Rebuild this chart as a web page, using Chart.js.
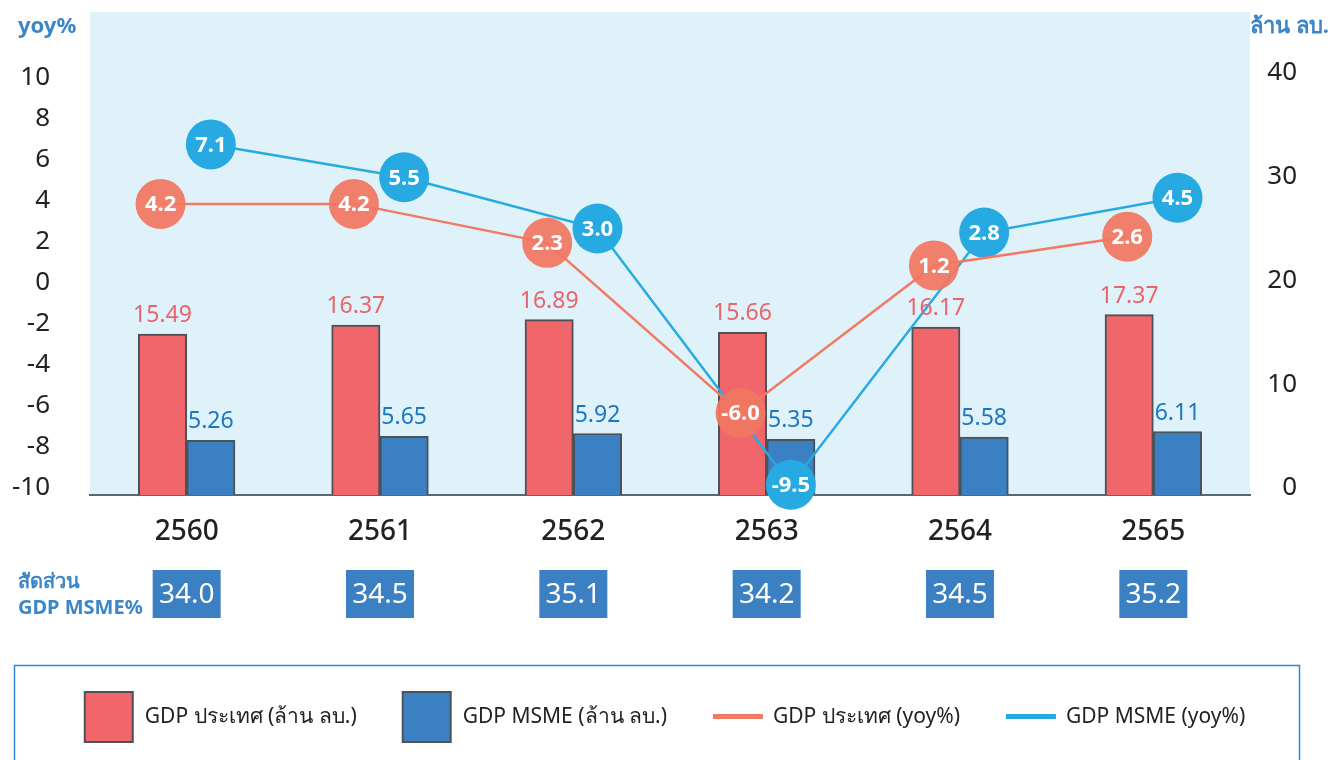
<!DOCTYPE html>
<html>
<head>
<meta charset="utf-8">
<script src="https://cdn.jsdelivr.net/npm/chart.js@4.4.1/dist/chart.umd.min.js"></script>
<style>
  html, body { margin: 0; padding: 0; background: #fff; }
</style>
</head>
<body>
<canvas id="gdpChart" width="1330" height="760"></canvas>
<script>
// values
const years = ['2560', '2561', '2562', '2563', '2564', '2565'];
const gdpThai = [15.49, 16.37, 16.89, 15.66, 16.17, 17.37];   // ล้าน ลบ.
const gdpMsme = [5.26, 5.65, 5.92, 5.35, 5.58, 6.11];         // ล้าน ลบ.
const gdpThaiYoy = [4.2, 4.2, 2.3, -6.0, 1.2, 2.6];           // yoy%
const gdpMsmeYoy = [7.1, 5.5, 3.0, -9.5, 2.8, 4.5];           // yoy%
const msmeShare = [34.0, 34.5, 35.1, 34.2, 34.5, 35.2];       // สัดส่วน GDP MSME%
const yoyTicks = [-10, -8, -6, -4, -2, 0, 2, 4, 6, 8, 10];
const valueTicks = [0, 10, 20, 30, 40];

const RED = '#f0666a';
const BLUE = '#3b80c2';
const ORANGE = 'rgba(241, 118, 96, 0.92)';
const SKY = '#27aae1';
const FONT = '"Noto Sans", "Open Sans", sans-serif';
const shift = 0.125; // red things sit left of the year centre, blue things right

// place a series on the hidden linear x axis, one slot per year
const atYear = (vals, dx) => vals.map((v, i) => ({ x: i + dx, y: v }));

const decorPlugin = {
  id: 'decor',
  beforeDraw(chart) {
    const { ctx, chartArea: a } = chart;
    ctx.save();
    ctx.fillStyle = '#dff2f9';
    ctx.fillRect(a.left, a.top, a.right - a.left, a.bottom - a.top);
    ctx.restore();
  },
  afterDatasetsDraw(chart) {
    const ctx = chart.ctx;
    ctx.save();
    ctx.textAlign = 'center';
    chart.data.datasets.forEach((ds, di) => {
      const meta = chart.getDatasetMeta(di);
      meta.data.forEach((el, i) => {
        if (ds.type === 'bar') {
          ctx.font = '23px ' + FONT;
          ctx.fillStyle = ds.labelColor;
          ctx.textBaseline = 'alphabetic';
          ctx.fillText(ds.data[i].y.toFixed(2), el.x, el.y - 12);
        } else {
          ctx.font = 'bold 22px ' + FONT;
          ctx.fillStyle = '#fff';
          ctx.textBaseline = 'middle';
          ctx.fillText(ds.data[i].y.toFixed(1), el.x, el.y + 1);
        }
      });
    });
    ctx.restore();
  },
  afterDraw(chart) {
    const ctx = chart.ctx;
    const xs = chart.scales.x;
    ctx.save();

    // axis titles
    ctx.font = 'bold 22px ' + FONT;
    ctx.fillStyle = '#3b86c9';
    ctx.textBaseline = 'middle';
    ctx.textAlign = 'left';
    ctx.fillText('yoy%', 18, 27);
    ctx.fillText('ล้าน ลบ.', 1250, 27);

    // share row
    ctx.font = 'bold 20px ' + FONT;
    ctx.fillText('สัดส่วน', 18, 582);
    ctx.fillText('GDP MSME%', 18, 608);
    ctx.textAlign = 'center';
    ctx.font = '28px ' + FONT;
    msmeShare.forEach((v, i) => {
      const cx = xs.getPixelForValue(i);
      ctx.fillStyle = '#3b80c2';
      ctx.fillRect(cx - 34, 570, 68, 48);
      ctx.fillStyle = '#fff';
      ctx.fillText(v.toFixed(1), cx, 595);
    });

    // legend box
    ctx.strokeStyle = '#2c87d8';
    ctx.lineWidth = 1.5;
    ctx.strokeRect(14.5, 665.5, 1285, 120);

    const items = chart.data.datasets.map(ds => ({
      kind: ds.type,
      color: ds.type === 'bar' ? ds.backgroundColor : ds.borderColor,
      label: ds.label
    }));
    ctx.font = '21px ' + FONT;
    const gap = 46;
    const widths = items.map(it => 60 + ctx.measureText(it.label).width);
    const total = widths.reduce((s, w) => s + w, 0) + gap * (items.length - 1);
    let x = 665 - total / 2;
    ctx.textAlign = 'left';
    items.forEach((it, i) => {
      if (it.kind === 'bar') {
        ctx.fillStyle = it.color;
        ctx.fillRect(x, 692, 48, 50);
        ctx.strokeStyle = '#4c5258';
        ctx.lineWidth = 2;
        ctx.strokeRect(x, 692, 48, 50);
      } else {
        ctx.fillStyle = it.color;
        ctx.fillRect(x, 714, 50, 5);
      }
      ctx.fillStyle = '#222';
      ctx.fillText(it.label, x + 60, 717);
      x += widths[i] + gap;
    });
    ctx.restore();
  }
};

const ctx = document.getElementById('gdpChart').getContext('2d');
const gdpChart = new Chart(ctx, {
  data: {
    labels: years,
    datasets: [
      {
        type: 'bar',
        label: 'GDP ประเทศ (ล้าน ลบ.)',
        data: atYear(gdpThai, -shift),
        backgroundColor: RED,
        borderColor: '#4c5258',
        borderWidth: 2,
        labelColor: '#e9646c',
        xAxisID: 'xl',
        yAxisID: 'y1',
        order: 3
      },
      {
        type: 'bar',
        label: 'GDP MSME (ล้าน ลบ.)',
        data: atYear(gdpMsme, shift),
        backgroundColor: BLUE,
        borderColor: '#4c5258',
        borderWidth: 2,
        labelColor: '#1c77c3',
        xAxisID: 'xl',
        yAxisID: 'y1',
        order: 3
      },
      {
        type: 'line',
        label: 'GDP ประเทศ (yoy%)',
        data: atYear(gdpThaiYoy, -shift - 0.01),
        borderColor: '#f27a64',
        borderWidth: 2.5,
        pointRadius: 25,
        pointBorderWidth: 0,
        pointBackgroundColor: ORANGE,
        xAxisID: 'xl',
        yAxisID: 'y',
        clip: false,
        order: 1
      },
      {
        type: 'line',
        label: 'GDP MSME (yoy%)',
        data: atYear(gdpMsmeYoy, shift),
        borderColor: SKY,
        borderWidth: 2.5,
        pointRadius: 25,
        pointBorderWidth: 0,
        pointBackgroundColor: SKY,
        xAxisID: 'xl',
        yAxisID: 'y',
        clip: false,
        order: 2
      }
    ]
  },
  options: {
    responsive: false,
    animation: false,
    devicePixelRatio: 1,
    layout: { autoPadding: false, padding: { top: 12, right: 33, left: 0, bottom: 0 } },
    datasets: {
      bar: { grouped: false, categoryPercentage: 1, barPercentage: 1 }
    },
    plugins: {
      legend: { display: false },
      tooltip: { enabled: false }
    },
    scales: {
      x: {
        type: 'category',
        offset: true,
        grid: { display: false, drawTicks: false },
        border: { display: true, color: '#5d6670', width: 2 },
        ticks: {
          color: '#222',
          font: { family: FONT, size: 28, weight: '500' },
          padding: 20
        },
        afterFit(scale) { scale.height = 265; }
      },
      xl: {
        type: 'linear',
        display: false,
        offset: false,
        min: -0.5,
        max: years.length - 0.5,
        ticks: { stepSize: 1 }
      },
      y: {
        type: 'linear',
        position: 'left',
        min: -10,
        max: 13.56,
        grid: { display: false, drawTicks: false },
        border: { display: false },
        ticks: {
          color: '#222',
          font: { family: FONT, size: 26 },
          padding: 40,
          labelOffset: -7
        },
        afterBuildTicks(scale) { scale.ticks = yoyTicks.map(v => ({ value: v })); },
        afterFit(scale) { scale.width = 90; scale.paddingTop = 0; scale.paddingBottom = 0; }
      },
      y1: {
        type: 'linear',
        position: 'right',
        min: 0,
        max: 46.5,
        grid: { display: false, drawTicks: false },
        border: { display: false },
        ticks: {
          color: '#222',
          font: { family: FONT, size: 26 },
          crossAlign: 'far',
          padding: 10,
          labelOffset: -7
        },
        afterBuildTicks(scale) { scale.ticks = valueTicks.map(v => ({ value: v })); },
        afterFit(scale) { scale.width = 47; scale.paddingTop = 0; scale.paddingBottom = 0; }
      }
    }
  },
  plugins: [decorPlugin]
});
</script>
</body>
</html>
